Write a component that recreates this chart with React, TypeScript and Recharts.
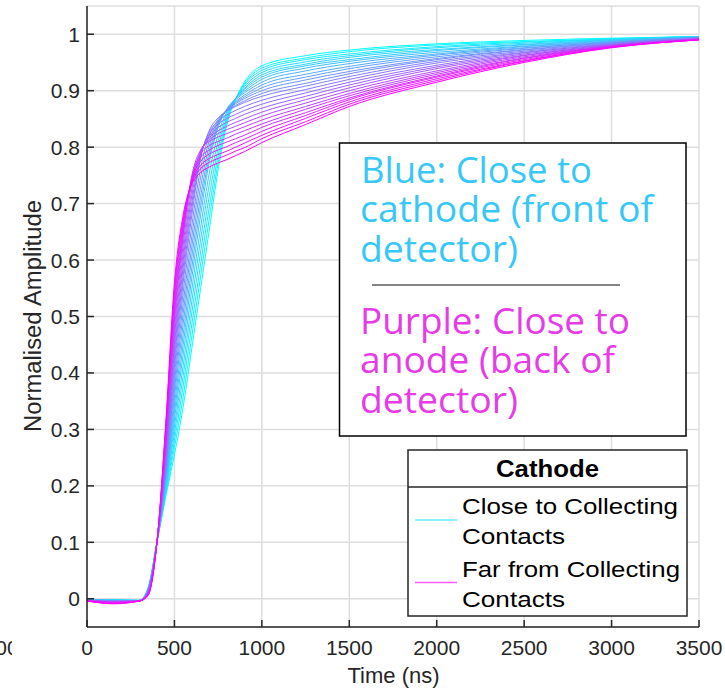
import React from 'react';
import { LineChart, Line, XAxis, YAxis, CartesianGrid } from 'recharts';

// sample times (ns)
const times = [0, 150, 300, 350, 400, 450, 500, 550, 600, 650, 700, 750, 800, 850, 900, 1000, 1250, 1500, 2000, 2500, 3000, 3500];

// amplitude of the 25 traces (cyan -> magenta) at each sample time
const amp0000 = [-0.002, -0.002, -0.002, -0.002, -0.002, -0.002, -0.002, -0.002, -0.002, -0.002, -0.003, -0.003, -0.003, -0.003, -0.003, -0.003, -0.003, -0.003, -0.003, -0.003, -0.003, -0.004, -0.004, -0.004, -0.004];
const amp0150 = [-0.002, -0.002, -0.002, -0.002, -0.003, -0.003, -0.003, -0.003, -0.003, -0.003, -0.004, -0.004, -0.004, -0.004, -0.005, -0.005, -0.005, -0.006, -0.006, -0.006, -0.007, -0.007, -0.008, -0.008, -0.009];
const amp0300 = [-0.003, -0.003, -0.003, -0.003, -0.003, -0.003, -0.003, -0.003, -0.003, -0.003, -0.003, -0.003, -0.003, -0.003, -0.003, -0.004, -0.004, -0.004, -0.004, -0.004, -0.004, -0.004, -0.004, -0.004, -0.004];
const amp0350 = [0.020, 0.020, 0.019, 0.019, 0.018, 0.018, 0.017, 0.017, 0.016, 0.016, 0.015, 0.015, 0.014, 0.013, 0.013, 0.012, 0.012, 0.011, 0.010, 0.009, 0.009, 0.008, 0.008, 0.007, 0.006];
const amp0400 = [0.1, 0.1, 0.1, 0.1, 0.1, 0.1, 0.1, 0.1, 0.1, 0.1, 0.1, 0.1, 0.1, 0.1, 0.1, 0.1, 0.1, 0.1, 0.1, 0.1, 0.1, 0.1, 0.1, 0.1, 0.1];
const amp0450 = [0.180, 0.184, 0.188, 0.193, 0.197, 0.201, 0.205, 0.210, 0.215, 0.220, 0.225, 0.230, 0.235, 0.241, 0.247, 0.253, 0.258, 0.264, 0.270, 0.277, 0.283, 0.290, 0.297, 0.303, 0.310];
const amp0500 = [0.255, 0.268, 0.280, 0.293, 0.305, 0.318, 0.330, 0.343, 0.357, 0.370, 0.383, 0.397, 0.410, 0.423, 0.437, 0.450, 0.463, 0.477, 0.490, 0.502, 0.513, 0.525, 0.537, 0.548, 0.560];
const amp0550 = [0.340, 0.358, 0.377, 0.395, 0.413, 0.432, 0.450, 0.468, 0.487, 0.505, 0.523, 0.542, 0.560, 0.573, 0.587, 0.600, 0.613, 0.627, 0.640, 0.647, 0.653, 0.660, 0.667, 0.673, 0.680];
const amp0600 = [0.445, 0.466, 0.487, 0.508, 0.528, 0.549, 0.570, 0.588, 0.607, 0.625, 0.643, 0.662, 0.680, 0.692, 0.703, 0.715, 0.727, 0.738, 0.750, 0.748, 0.745, 0.743, 0.740, 0.738, 0.735];
const amp0650 = [0.550, 0.572, 0.593, 0.615, 0.637, 0.658, 0.680, 0.697, 0.713, 0.730, 0.747, 0.763, 0.780, 0.783, 0.785, 0.788, 0.790, 0.793, 0.795, 0.788, 0.782, 0.775, 0.768, 0.762, 0.755];
const amp0700 = [0.655, 0.675, 0.695, 0.715, 0.735, 0.755, 0.775, 0.784, 0.793, 0.803, 0.812, 0.821, 0.830, 0.827, 0.823, 0.820, 0.817, 0.813, 0.810, 0.803, 0.795, 0.788, 0.780, 0.773, 0.765];
const amp0750 = [0.760, 0.773, 0.785, 0.798, 0.810, 0.823, 0.835, 0.838, 0.841, 0.844, 0.846, 0.849, 0.852, 0.846, 0.841, 0.835, 0.829, 0.824, 0.818, 0.810, 0.803, 0.795, 0.787, 0.780, 0.772];
const amp0800 = [0.840, 0.845, 0.849, 0.854, 0.859, 0.863, 0.868, 0.867, 0.867, 0.866, 0.865, 0.865, 0.864, 0.857, 0.851, 0.844, 0.837, 0.831, 0.824, 0.816, 0.809, 0.801, 0.793, 0.786, 0.778];
const amp0850 = [0.885, 0.885, 0.885, 0.886, 0.886, 0.886, 0.886, 0.884, 0.881, 0.879, 0.877, 0.874, 0.872, 0.865, 0.858, 0.851, 0.844, 0.837, 0.830, 0.823, 0.815, 0.808, 0.800, 0.793, 0.785];
const amp0900 = [0.915, 0.912, 0.910, 0.907, 0.904, 0.902, 0.899, 0.896, 0.892, 0.889, 0.886, 0.882, 0.879, 0.872, 0.865, 0.858, 0.850, 0.843, 0.836, 0.829, 0.821, 0.814, 0.807, 0.799, 0.792];
const amp1000 = [0.944, 0.940, 0.936, 0.932, 0.928, 0.924, 0.920, 0.915, 0.910, 0.905, 0.900, 0.895, 0.890, 0.883, 0.876, 0.869, 0.862, 0.855, 0.848, 0.841, 0.835, 0.828, 0.821, 0.815, 0.808];
const amp1250 = [0.962, 0.958, 0.955, 0.951, 0.947, 0.944, 0.940, 0.935, 0.929, 0.924, 0.919, 0.913, 0.908, 0.902, 0.896, 0.890, 0.884, 0.878, 0.872, 0.867, 0.861, 0.856, 0.851, 0.845, 0.840];
const amp1500 = [0.972, 0.969, 0.965, 0.962, 0.959, 0.955, 0.952, 0.948, 0.943, 0.939, 0.934, 0.930, 0.925, 0.920, 0.915, 0.910, 0.905, 0.900, 0.895, 0.891, 0.887, 0.884, 0.880, 0.876, 0.872];
const amp2000 = [0.983, 0.981, 0.978, 0.976, 0.973, 0.971, 0.968, 0.965, 0.963, 0.960, 0.957, 0.955, 0.952, 0.949, 0.945, 0.942, 0.939, 0.935, 0.932, 0.929, 0.926, 0.924, 0.921, 0.918, 0.915];
const amp2500 = [0.989, 0.987, 0.986, 0.984, 0.982, 0.981, 0.979, 0.978, 0.976, 0.975, 0.973, 0.972, 0.970, 0.968, 0.967, 0.965, 0.963, 0.962, 0.960, 0.958, 0.957, 0.955, 0.953, 0.952, 0.950];
const amp3000 = [0.993, 0.992, 0.991, 0.991, 0.990, 0.989, 0.988, 0.987, 0.986, 0.986, 0.985, 0.984, 0.983, 0.982, 0.982, 0.981, 0.980, 0.980, 0.979, 0.979, 0.978, 0.978, 0.977, 0.977, 0.976];
const amp3500 = [0.996, 0.996, 0.996, 0.996, 0.995, 0.995, 0.995, 0.995, 0.994, 0.994, 0.994, 0.993, 0.993, 0.993, 0.992, 0.992, 0.992, 0.991, 0.991, 0.991, 0.991, 0.990, 0.990, 0.990, 0.990];

const amplitudeRows = [amp0000, amp0150, amp0300, amp0350, amp0400, amp0450, amp0500, amp0550, amp0600, amp0650, amp0700, amp0750, amp0800, amp0850, amp0900, amp1000, amp1250, amp1500, amp2000, amp2500, amp3000, amp3500];

const xTicks = [0, 500, 1000, 1500, 2000, 2500, 3000, 3500];
const yTicks = [0, 0.1, 0.2, 0.3, 0.4, 0.5, 0.6, 0.7, 0.8, 0.9, 1];

const traceCount = amp0000.length;

const data = times.map((t, r) => {
  const row: Record<string, number> = { t };
  amplitudeRows[r].forEach((v, i) => {
    row['c' + i] = v;
  });
  return row;
});

// matlab "cool" colormap
const coolColor = (i: number) => {
  const f = i / (traceCount - 1);
  return `rgb(${Math.round(255 * f)},${Math.round(255 * (1 - f))},255)`;
};

const axisColor = '#262626';
const tickFont = { fontSize: 21, fill: axisColor, fontFamily: '"Liberation Sans", Arial, sans-serif' };
const fmtY = (v: number) => (v === 0 || v === 1 ? String(v) : v.toFixed(1));

export default function App() {
  return (
    <div style={{ position: 'absolute', left: 0, top: 0, width: 725, height: 689, background: '#fff' }}>
      <LineChart
        width={725}
        height={689}
        data={data}
        margin={{ top: 6, right: 26, bottom: 32, left: 27 }}
        style={{ fontFamily: '"Liberation Sans", Arial, sans-serif' }}
      >
        <CartesianGrid stroke="#dedede" strokeWidth={1.5} ticks={yTicks} />
        <XAxis
          dataKey="t"
          type="number"
          domain={[0, 3500]}
          ticks={xTicks}
          height={30}
          tickSize={-7}
          tickMargin={20}
          tick={tickFont}
          axisLine={{ stroke: axisColor, strokeWidth: 1.5 }}
          tickLine={{ stroke: axisColor, strokeWidth: 1.5 }}
          allowDataOverflow
        />
        <XAxis
          xAxisId="top"
          orientation="top"
          dataKey="t"
          type="number"
          domain={[0, 3500]}
          ticks={xTicks}
          height={0}
          tickSize={-7}
          tick={false}
          axisLine={{ stroke: axisColor, strokeWidth: 1.5 }}
          tickLine={{ stroke: axisColor, strokeWidth: 1.5 }}
        />
        <YAxis
          type="number"
          domain={[-0.05, 1.05]}
          ticks={yTicks}
          width={60}
          tickSize={-7}
          tickMargin={14}
          tick={tickFont}
          tickFormatter={fmtY}
          axisLine={{ stroke: axisColor, strokeWidth: 1.5 }}
          tickLine={{ stroke: axisColor, strokeWidth: 1.5 }}
          allowDataOverflow
        />
        <YAxis
          yAxisId="right"
          orientation="right"
          type="number"
          domain={[-0.05, 1.05]}
          ticks={yTicks}
          width={0}
          tickSize={-7}
          tick={false}
          axisLine={{ stroke: axisColor, strokeWidth: 1.5 }}
          tickLine={{ stroke: axisColor, strokeWidth: 1.5 }}
        />
        {Array.from({ length: traceCount }, (_, i) => (
          <Line
            key={i}
            type="monotone"
            dataKey={'c' + i}
            stroke={coolColor(i)}
            strokeWidth={1}
            dot={false}
            activeDot={false}
            isAnimationActive={false}
          />
        ))}
      </LineChart>

      <svg
        width={725}
        height={689}
        style={{ position: 'absolute', left: 0, top: 0, pointerEvents: 'none' }}
        fontFamily='"Liberation Sans", Arial, sans-serif'
      >
        <defs>
          <clipPath id="leftCut">
            <rect x={0} y={620} width={12} height={69} />
          </clipPath>
        </defs>
        {/* neighbouring panel's last tick label, cut off */}
        <text x={18.6} y={655} textAnchor="end" fontSize={21} fill={axisColor} clipPath="url(#leftCut)">3500</text>

        {/* axis titles */}
        <text x={393.5} y={683} textAnchor="middle" fontSize={22} fill={axisColor}>Time (ns)</text>
        <text
          x={0}
          y={0}
          transform="translate(41,316) rotate(-90)"
          textAnchor="middle"
          fontSize={23}
          fill={axisColor}
          textLength={232}
          lengthAdjust="spacingAndGlyphs"
        >
          Normalised Amplitude
        </text>

        {/* annotation box */}
        <rect x={339.5} y={143} width={346.5} height={293} fill="#fff" stroke="#000" strokeWidth={1.5} />
        <g fontFamily='"Open Sans", sans-serif' fontSize={37}>
          <text x={361} y={183} fill="#38c8f8" textLength={231} lengthAdjust="spacingAndGlyphs">Blue: Close to</text>
          <text x={360} y={222} fill="#38c8f8" textLength={293} lengthAdjust="spacingAndGlyphs">cathode (front of</text>
          <text x={360} y={262} fill="#38c8f8" textLength={158} lengthAdjust="spacingAndGlyphs">detector)</text>
          <line x1={372} x2={620} y1={285} y2={285} stroke="#858585" strokeWidth={2} />
          <text x={360} y={334} fill="#e63be6" textLength={270} lengthAdjust="spacingAndGlyphs">Purple: Close to</text>
          <text x={360} y={373} fill="#e63be6" textLength={255} lengthAdjust="spacingAndGlyphs">anode (back of</text>
          <text x={360} y={413} fill="#e63be6" textLength={158} lengthAdjust="spacingAndGlyphs">detector)</text>
        </g>

        {/* legend */}
        <rect x={408} y={450} width={279} height={166} fill="#fff" stroke={axisColor} strokeWidth={1.5} />
        <line x1={408} x2={687} y1={487} y2={487} stroke={axisColor} strokeWidth={1.5} />
        <text x={547.5} y={477} textAnchor="middle" fontSize={23} fontWeight="bold" fill="#000" textLength={103} lengthAdjust="spacingAndGlyphs">Cathode</text>
        <line x1={415} x2={457} y1={520} y2={520} stroke="#5eeeff" strokeWidth={1.5} />
        <line x1={415} x2={457} y1={582.5} y2={582.5} stroke="#ff5eff" strokeWidth={1.5} />
        <g fontSize={22} fill="#000">
          <text x={462} y={514} textLength={216} lengthAdjust="spacingAndGlyphs">Close to Collecting</text>
          <text x={462} y={544} textLength={103} lengthAdjust="spacingAndGlyphs">Contacts</text>
          <text x={462} y={577} textLength={218} lengthAdjust="spacingAndGlyphs">Far from Collecting</text>
          <text x={462} y={607} textLength={103} lengthAdjust="spacingAndGlyphs">Contacts</text>
        </g>
      </svg>
    </div>
  );
}
